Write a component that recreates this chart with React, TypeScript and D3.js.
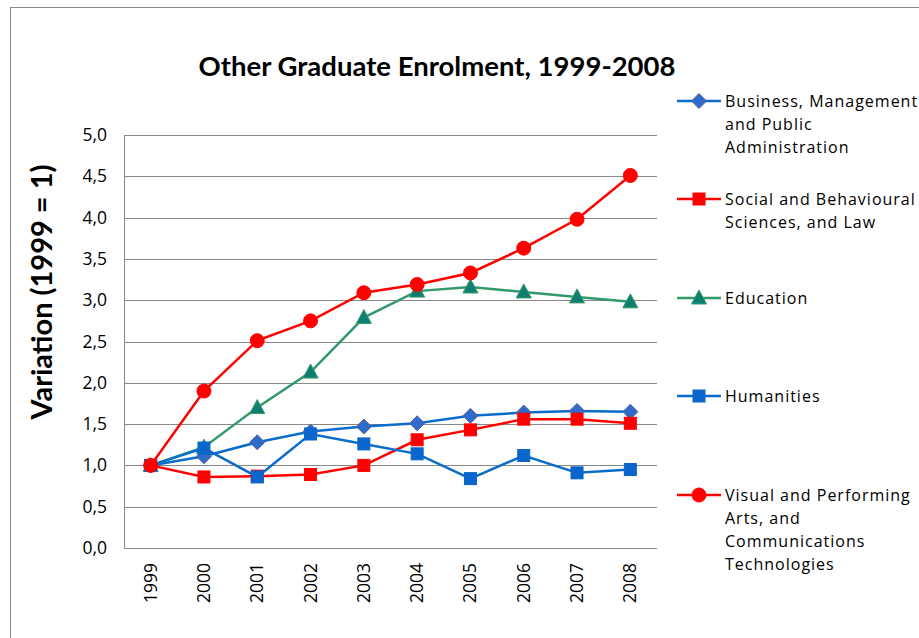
import React from "react";
import * as d3 from "d3";

const years = ["1999", "2000", "2001", "2002", "2003", "2004", "2005", "2006", "2007", "2008"];
const business = [1.0, 1.11, 1.28, 1.41, 1.47, 1.51, 1.6, 1.64, 1.66, 1.65];
const social = [1.0, 0.86, 0.87, 0.89, 1.0, 1.31, 1.43, 1.56, 1.56, 1.51];
const education = [1.0, 1.22, 1.7, 2.13, 2.79, 3.11, 3.16, 3.1, 3.04, 2.98];
const humanities = [1.0, 1.21, 0.86, 1.38, 1.26, 1.14, 0.84, 1.12, 0.91, 0.95];
const visual = [1.0, 1.9, 2.51, 2.75, 3.09, 3.19, 3.33, 3.63, 3.98, 4.51];
const yTicks = [0, 0.5, 1, 1.5, 2, 2.5, 3, 3.5, 4, 4.5, 5];

type Marker = "diamond" | "square" | "triangle" | "circle";
const series: { name: string[]; values: number[]; line: string; fill: string; stroke: string; marker: Marker }[] = [
  { name: ["Business, Management", "and Public", "Administration"], values: business, line: "#0A6CCB", fill: "#2F6BC8", stroke: "#5A5FA0", marker: "diamond" },
  { name: ["Social and Behavioural", "Sciences, and Law"], values: social, line: "#FF0000", fill: "#FF0000", stroke: "#FF0000", marker: "square" },
  { name: ["Education"], values: education, line: "#33996A", fill: "#0F7F72", stroke: "#33996A", marker: "triangle" },
  { name: ["Humanities"], values: humanities, line: "#0A6CCB", fill: "#0A66CC", stroke: "#0A66CC", marker: "square" },
  { name: ["Visual and Performing", "Arts, and", "Communications", "Technologies"], values: visual, line: "#FF0000", fill: "#FF0000", stroke: "#FF0000", marker: "circle" },
];
const legendY = [101, 199, 298, 396, 495];

const W = 919, H = 638;
const plot = { left: 124, right: 657, top: 135, bottom: 548 };
const font = "'Open Sans', sans-serif";

function MarkerShape({ type, x, y, fill, stroke }: { type: Marker; x: number; y: number; fill: string; stroke: string }) {
  if (type === "circle") return <circle cx={x} cy={y} r={7} fill={fill} stroke={stroke} strokeWidth={1} />;
  if (type === "square") return <rect x={x - 6} y={y - 6} width={12} height={12} fill={fill} stroke={stroke} strokeWidth={1} />;
  if (type === "diamond") return <path d={`M${x},${y - 7.5}L${x + 7.5},${y}L${x},${y + 7.5}L${x - 7.5},${y}Z`} fill={fill} stroke={stroke} strokeWidth={1} />;
  return <path d={`M${x},${y - 8}L${x + 7.5},${y + 6}L${x - 7.5},${y + 6}Z`} fill={fill} stroke={stroke} strokeWidth={1} />;
}

export default function App() {
  const x = d3.scaleBand<string>().domain(years).range([plot.left, plot.right]);
  const y = d3.scaleLinear().domain([0, 5]).range([plot.bottom, plot.top]);
  const cx = (d: string) => (x(d) as number) + x.bandwidth() / 2;
  const line = d3.line<number>().x((_, i) => cx(years[i])).y((v) => y(v));

  return (
    <svg width={W} height={H} style={{ position: "absolute", left: 0, top: 0, background: "#fff" }}>
      <rect x={10.5} y={7.5} width={W} height={H} fill="#fff" stroke="#888" strokeWidth={1} />
      <text x={437} y={76} textAnchor="middle" fontFamily="Lato, sans-serif" fontWeight="bold" fontSize={27.5} fill="#000">
        Other Graduate Enrolment, 1999-2008
      </text>
      {yTicks.map((t) => (
        <g key={t}>
          {t > 0 && <line x1={plot.left} x2={plot.right} y1={Math.round(y(t)) + 0.5} y2={Math.round(y(t)) + 0.5} stroke="#888" strokeWidth={1} />}
          <text x={107} y={y(t) + 6} textAnchor="end" fontFamily={font} fontSize={17.5} fill="#000">
            {t.toFixed(1).replace(".", ",")}
          </text>
        </g>
      ))}
      <line x1={plot.left + 0.5} x2={plot.left + 0.5} y1={plot.top} y2={plot.bottom} stroke="#888" />
      <line x1={plot.left} x2={plot.right} y1={plot.bottom + 0.5} y2={plot.bottom + 0.5} stroke="#888" />
      {years.map((yr) => (
        <text key={yr} transform={`translate(${cx(yr) + 6},563) rotate(-90)`} textAnchor="end" fontFamily={font} fontSize={17.5} fill="#000">
          {yr}
        </text>
      ))}
      <text transform={`translate(52,292) rotate(-90)`} textAnchor="middle" fontFamily="Lato, sans-serif" fontWeight="bold" fontSize={29} fill="#000">
        Variation (1999 = 1)
      </text>
      {series.map((s, si) => (
        <g key={si}>
          <path d={line(s.values) as string} fill="none" stroke={s.line} strokeWidth={2.5} />
          {s.values.map((v, i) => (
            <MarkerShape key={i} type={s.marker} x={cx(years[i])} y={y(v)} fill={s.fill} stroke={s.stroke} />
          ))}
        </g>
      ))}
      {series.map((s, si) => (
        <g key={"l" + si}>
          <line x1={677} x2={721} y1={legendY[si]} y2={legendY[si]} stroke={s.line} strokeWidth={2.5} />
          <MarkerShape type={s.marker} x={699} y={legendY[si]} fill={s.fill} stroke={s.stroke} />
          {s.name.map((ln, li) => (
            <text key={li} x={725} y={legendY[si] + 6 + li * 23} fontFamily={font} fontSize={16} letterSpacing={1} fill="#000">
              {ln}
            </text>
          ))}
        </g>
      ))}
    </svg>
  );
}
